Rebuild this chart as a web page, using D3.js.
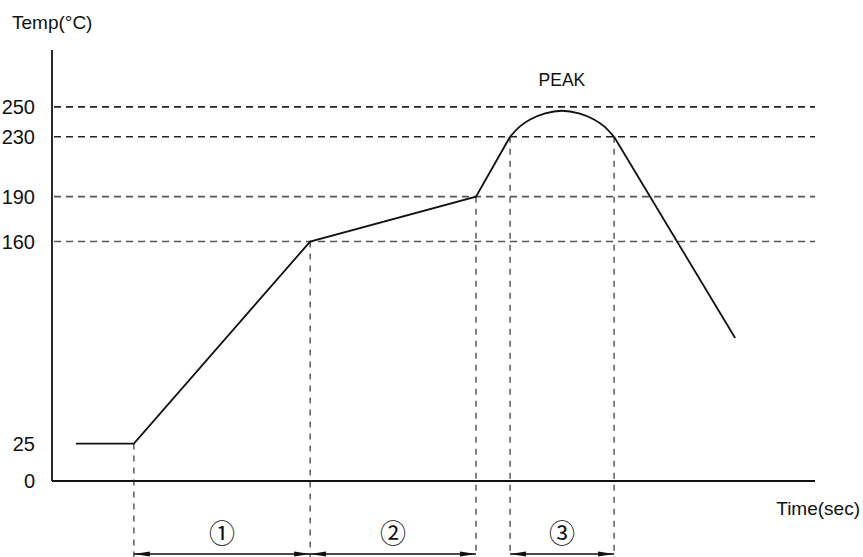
<!DOCTYPE html>
<html>
<head>
<meta charset="utf-8">
<script src="https://cdn.jsdelivr.net/npm/d3@7"></script>
<style>
  html, body { margin: 0; padding: 0; background: #fff; }
  svg { display: block; }
  text { font-family: "Liberation Sans", Arial, sans-serif; fill: #111; }
  .circled { font-family: "Noto Sans CJK SC", "DejaVu Sans", sans-serif; }
</style>
</head>
<body>
<div id="chart"></div>
<script>
// reflow temperature profile

const W = 863, H = 557;
const margin = {top: 50, right: 48, bottom: 76, left: 52};

// y ticks (°C)
const tempTicks = [0, 25, 160, 190, 230, 250];
const gridTemps = [160, 190, 230, 250];

// profile: straight parts
const rampTime = [9.4, 32.2, 101.5, 166.7, 180.1];
const rampTemp = [25, 25, 160, 190, 230];

// peak dome
const peakTime = [180.1, 184.0, 188.0, 193.9, 200.5, 207.2, 213.1, 217.1, 221];
const peakTemp = [230, 237, 241.6, 245.7, 247.4, 245.7, 241.6, 237, 230];

// cooling
const coolTime = [221, 268.6];
const coolTemp = [230, 95.5];

// vertical guides
const guideTime = [32.2, 101.5, 166.7, 180.1, 221];
const guideTemp = [25, 160, 190, 230, 230];

// zones
const zoneStart = [32.2, 101.5, 180.1];
const zoneEnd = [101.5, 166.7, 221];
const zoneLabel = ["①", "②", "③"];

const svg = d3.select("#chart").append("svg")
    .attr("width", W)
    .attr("height", H);

const x = d3.scaleLinear().domain([0, 300]).range([margin.left, W - margin.right]);
const y = d3.scaleLinear().domain([0, 288]).range([H - margin.bottom, margin.top]);

// arrow heads
const defs = svg.append("defs");
defs.append("marker")
    .attr("id", "arr")
    .attr("viewBox", "0 0 16 6")
    .attr("refX", 16).attr("refY", 3)
    .attr("markerWidth", 16).attr("markerHeight", 6)
    .attr("markerUnits", "userSpaceOnUse")
    .attr("orient", "auto-start-reverse")
    .append("path")
    .attr("d", "M0,0.6 L16,3 L0,5.4 Z")
    .style("fill", "#111");

// horizontal dashed lines
svg.selectAll(".grid")
    .data(gridTemps)
    .enter().append("line")
    .attr("class", "grid")
    .attr("x1", x(0) + 2).attr("x2", x(300))
    .attr("y1", d => y(d)).attr("y2", d => y(d))
    .style("stroke", d => d >= 230 ? "#222" : "#555")
    .style("stroke-width", 1.6)
    .style("stroke-dasharray", "7,5");

// vertical dashed guides
svg.selectAll(".guide")
    .data(guideTime)
    .enter().append("line")
    .attr("class", "guide")
    .attr("x1", d => x(d)).attr("x2", d => x(d))
    .attr("y1", (d, i) => y(guideTemp[i])).attr("y2", H)
    .style("stroke", "#333")
    .style("stroke-width", 1.2)
    .style("stroke-dasharray", "6,6");

// axes
svg.append("line")
    .attr("x1", x(0)).attr("x2", x(0))
    .attr("y1", y(0)).attr("y2", y(288))
    .style("stroke", "#111").style("stroke-width", 1.8);

svg.append("line")
    .attr("x1", x(0)).attr("x2", x(300))
    .attr("y1", y(0)).attr("y2", y(0))
    .style("stroke", "#111").style("stroke-width", 1.8);

// y tick labels
svg.selectAll(".ytick")
    .data(tempTicks)
    .enter().append("text")
    .attr("class", "ytick")
    .attr("x", x(0) - 17)
    .attr("y", d => y(d))
    .attr("dy", "0.36em")
    .attr("text-anchor", "end")
    .style("font-size", "20px")
    .text(d => d);

// axis titles
svg.append("text")
    .attr("x", 12).attr("y", 29)
    .style("font-size", "19px")
    .text("Temp(°C)");

svg.append("text")
    .attr("x", 860).attr("y", 515)
    .attr("text-anchor", "end")
    .style("font-size", "19px")
    .text("Time(sec)");

// profile curve
const line = d3.line()
    .x(d => x(d[0]))
    .y(d => y(d[1]));

svg.append("path")
    .datum(d3.zip(rampTime, rampTemp))
    .attr("d", line)
    .style("fill", "none").style("stroke", "#111").style("stroke-width", 1.8);

svg.append("path")
    .datum(d3.zip(peakTime, peakTemp))
    .attr("d", line.curve(d3.curveCatmullRom))
    .style("fill", "none").style("stroke", "#111").style("stroke-width", 1.8);

svg.append("path")
    .datum(d3.zip(coolTime, coolTemp))
    .attr("d", line.curve(d3.curveLinear))
    .style("fill", "none").style("stroke", "#111").style("stroke-width", 1.8);

// PEAK label
svg.append("text")
    .attr("x", x(200.5)).attr("y", 86)
    .attr("text-anchor", "middle")
    .style("font-size", "17.5px")
    .text("PEAK");

// zone arrows + numbers
zoneStart.forEach((s, i) => {
    svg.append("line")
        .attr("x1", x(s)).attr("x2", x(zoneEnd[i]))
        .attr("y1", 554).attr("y2", 554)
        .style("stroke", "#111").style("stroke-width", 1.6)
        .attr("marker-start", "url(#arr)")
        .attr("marker-end", "url(#arr)");

    svg.append("text")
        .attr("class", "circled")
        .attr("x", (x(s) + x(zoneEnd[i])) / 2)
        .attr("y", 534)
        .attr("dy", "0.35em")
        .attr("text-anchor", "middle")
        .style("font-size", "26px")
        .text(zoneLabel[i]);
});
</script>
</body>
</html>
